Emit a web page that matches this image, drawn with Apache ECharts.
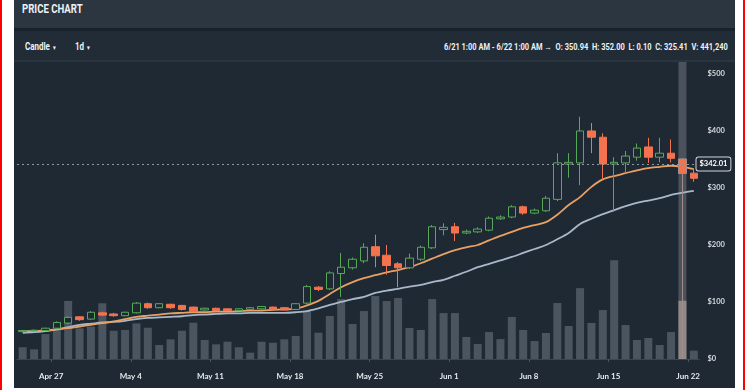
<!DOCTYPE html>
<html><head><meta charset="utf-8">
<script src="https://cdn.jsdelivr.net/npm/echarts@6/dist/echarts.min.js"></script>
<style>
html,body{margin:0;padding:0;width:745px;height:390px;background:#fff;overflow:hidden;position:relative;}
.abs{position:absolute;}
#panel{left:14px;top:0;width:721px;height:388px;background:#1e2934;}
#hdr{left:14px;top:0;width:721px;height:28px;background:#2b3640;}
#sep1{left:14px;top:28px;width:721px;height:3px;background:#18222b;}
#tool{left:14px;top:31px;width:721px;height:29px;background:#212c36;}
#sep2{left:14px;top:60px;width:721px;height:2px;background:#2a3540;}
#redL{left:0;top:0;width:2px;height:390px;background:#f00;}
#redR{left:743px;top:0;width:2px;height:390px;background:#f00;}
.t{position:absolute;color:#eef1f4;font-family:Roboto,'Noto Sans',sans-serif;font-weight:bold;white-space:nowrap;}
#chart{position:absolute;left:0;top:0;width:745px;height:390px;}
</style></head>
<body>
<div class="abs" id="panel"></div>
<div class="abs" id="hdr"></div>
<div class="abs" id="sep1"></div>
<div class="abs" id="tool"></div>
<div class="abs" id="sep2"></div>
<div class="abs" id="redL"></div>
<div class="abs" id="redR"></div>
<div class="t" style="left:22px;top:2px;font-size:12px;line-height:15px;transform:scaleX(0.8);transform-origin:left center;">PRICE CHART</div>
<div class="t" style="left:25px;top:40px;font-size:10px;line-height:13px;transform:scaleX(0.8);transform-origin:left center;">Candle <span style="font-size:6px;">&#9660;</span></div>
<div class="t" style="left:75px;top:40px;font-size:10px;line-height:13px;transform:scaleX(0.8);transform-origin:left center;">1d <span style="font-size:6px;">&#9660;</span></div>
<div class="t" style="right:17px;top:41px;font-size:9px;line-height:12px;transform:scaleX(0.83);transform-origin:right center;">6/21 1:00 AM - 6/22 1:00 AM &rarr;&nbsp; O: 350.94&nbsp; H: 352.00&nbsp; L: 0.10&nbsp; C: 325.41&nbsp; V: 441,240</div>
<div id="chart"></div>
<script>
const categories = [
 'Apr 24','Apr 25','Apr 26','Apr 27','Apr 28','Apr 29','Apr 30',
 'May 1','May 2','May 3','May 4','May 5','May 6','May 7','May 8','May 9','May 10',
 'May 11','May 12','May 13','May 14','May 15','May 16','May 17','May 18','May 19','May 20',
 'May 21','May 22','May 23','May 24','May 25','May 26','May 27','May 28','May 29','May 30','May 31',
 'Jun 1','Jun 2','Jun 3','Jun 4','Jun 5','Jun 6','Jun 7','Jun 8','Jun 9','Jun 10',
 'Jun 11','Jun 12','Jun 13','Jun 14','Jun 15','Jun 16','Jun 17','Jun 18','Jun 19','Jun 20','Jun 21','Jun 22'
];
const tickLabels = ['Apr 27','May 4','May 11','May 18','May 25','Jun 1','Jun 8','Jun 15','Jun 22'];
const priceTicks = [0, 100, 200, 300, 400, 500];
// [open, close, low, high]
const candles = [
 [48,50,47,51],[49.5,50.5,48,52],[50,54,49,55],[54,64,53,66],[63,73,61,75],[74,69,67,75],[70,82,69,84],
 [81,77,75,83],[79,76,74,81],[76,82,75,83],[81,98,80,100],[97,90,88,99],[90,97,89,98],[96,90,88,97],
 [94,87,85,95],[91,83,82,92],[86,89,85,90],[89,85,84,90],[88,85,84,89],[85,88,84,89],[87,90,86,91],
 [88,92,87,93],[91,87,86,92],[90,86,85,91],[87,97,86,98],[98,127,96,130],[126,122,119,128],[123,151,121,154],
 [150,161,109,186],[160,175,157,178],[172,196,168,203],[197,181,161,218],[182,164,148,200],[167,160,126,170],
 [160,177,158,185],[175,196,172,199],[195,232,193,235],[227,231,217,238],[232,221,207,239],[221,224,219,227],
 [223,228,221,231],[226,247,224,250],[246,249,244,252],[249,267,247,270],[267,256,253,269],[256,261,254,264],
 [260,282,258,286],[280,344,277,361],[342,345,318,361],[344,400,305,425],[400,389,361,414],[389,342,314,396],
 [342,345,258,354],[344,356,326,365],[354,370,348,378],[372,354,344,388],[354,361,345,388],[361,352,345,385],
 [350.94,325.41,0.10,352.00],[326,317,311,333]
];
const volumes = [
 89000,73000,189000,220000,440000,232000,245000,422000,214000,220000,270000,237000,106000,149000,
 214000,275000,144000,111000,131000,89000,48000,131000,123000,149000,175000,363000,199000,326000,
 454000,265000,363000,477000,439000,462000,235000,220000,454000,348000,348000,167000,114000,204000,
 151000,318000,220000,136000,197000,424000,250000,537000,273000,371000,749000,257000,144000,159000,
 106000,204000,441240,63000
];
const emaFast = [
 49,49,50,52,54,57,60,63,66,70,74,76,78,80,81,82,82,83,83,84,85,85,86,87,88,94,102,114,126,135,
 142,147,152,156,161,168,176,184,191,196,200,208,216,223,230,235,240,253,270,284,302,315,321,326,331,335,337,339,337,333
];
const emaSlow = [
 46,47,49,52,56,60,62,64,65,67,70,72,73,74,75,77,78,79,80,80,81,81,81,81,82,84,89,95,100,105,
 109,116,120,123,127,130,135,139,146,153,161,167,173,179,186,193,200,210,221,237,246,254,261,268,274,278,282,288,292,295
];
const lastPrice = 342.01;
const hoverDay = 'Jun 21';
const priceMax = 521;
const volumeMax = 2250000;

const tickPos = tickLabels.map(l => categories.indexOf(l));
const font = "Lato, Roboto, sans-serif";

const chart = echarts.init(document.getElementById('chart'), null, {renderer: 'canvas'});
chart.setOption({
  animation: false,
  backgroundColor: 'transparent',
  grid: {left: 17, right: 45.5, top: 62, bottom: 31, outerBoundsMode: 'none'},
  xAxis: [
    {type: 'category', data: categories, boundaryGap: true,
     axisLine: {lineStyle: {color: '#3b4650'}}, axisTick: {show: false}, axisLabel: {show: false}, splitLine: {show: false}},
    {type: 'value', min: 0, max: categories.length, position: 'bottom',
     axisLine: {show: false}, splitLine: {show: false},
     axisTick: {show: true, customValues: tickPos, length: 3, lineStyle: {color: '#4a5560'}},
     axisLabel: {customValues: tickPos, margin: 13, color: '#e6e9ec', fontSize: 8, fontWeight: 'bold', fontFamily: font,
       formatter: v => { const k = tickPos.indexOf(v); return k >= 0 ? tickLabels[k] : ''; }}}
  ],
  yAxis: [
    {type: 'value', min: 0, max: priceMax, position: 'right',
     axisLine: {show: false}, axisTick: {show: false}, splitLine: {show: false},
     axisLabel: {customValues: priceTicks, margin: 8, color: '#d5d9dd', fontSize: 7.5, fontWeight: 'bold', fontFamily: font,
       formatter: v => '$' + v}},
    {type: 'value', min: 0, max: volumeMax, show: false}
  ],
  series: [
    {name: 'cursor', type: 'bar', xAxisIndex: 0, yAxisIndex: 0, z: 1, barWidth: 8, barGap: '-100%',
     itemStyle: {color: 'rgba(150,150,155,0.38)'}, silent: true,
     data: categories.map(c => c === hoverDay ? priceMax : '-')},
    {name: 'Volume', type: 'bar', xAxisIndex: 0, yAxisIndex: 1, z: 2, barWidth: 8, barGap: '-100%',
     itemStyle: {color: '#4a555f'},
     data: volumes.map((v, i) => categories[i] === hoverDay ? {value: v, itemStyle: {color: '#8f8987'}} : v)},
    {name: 'EMA slow', type: 'line', z: 3, data: emaSlow, showSymbol: false, smooth: 0.3,
     lineStyle: {color: '#a9b8c8', width: 1.8}},
    {name: 'EMA fast', type: 'line', z: 3, data: emaFast, showSymbol: false, smooth: 0.3,
     lineStyle: {color: '#e9a063', width: 1.8}},
    {name: 'Price', type: 'candlestick', z: 4, barWidth: 8,
     data: candles.map((c, i) => categories[i] === hoverDay ? {value: c, itemStyle: {borderColor0: '#a48c8a', color0: '#f4734e'}} : c),
     itemStyle: {color: '#1e2934', color0: '#f4734e', borderColor: '#57a957', borderColor0: '#f4734e', borderWidth: 1},
     markLine: {silent: true, symbol: 'none', animation: false,
       lineStyle: {color: '#8e98a2', type: [2, 3], width: 1},
       label: {position: 'end', formatter: '$' + lastPrice.toFixed(2), color: '#ffffff', fontSize: 7.5, fontWeight: 'bold', fontFamily: font,
         backgroundColor: '#1e2934', borderColor: '#d0d5da', borderWidth: 1, borderRadius: 2, padding: [3, 3, 2, 3], distance: -3},
       data: [{yAxis: lastPrice}]}}
  ]
});
</script>
</body></html>
